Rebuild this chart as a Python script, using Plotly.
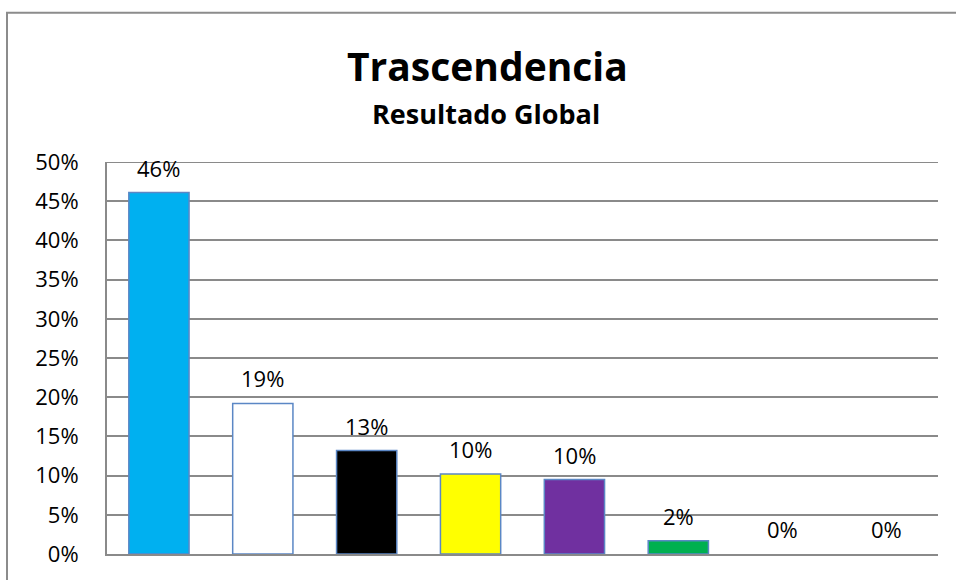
import plotly.graph_objects as go

# Share of responses per category (fractions of 1)
categories = ["A", "B", "C", "D", "E", "F", "G", "H"]
values = [0.461, 0.192, 0.132, 0.102, 0.095, 0.017, 0.0, 0.0]
bar_colors = ["#00B0F0", "#FFFFFF", "#000000", "#FFFF00", "#7030A0", "#00B050", "#FFFFFF", "#FFFFFF"]
tick_vals = [0, 0.05, 0.10, 0.15, 0.20, 0.25, 0.30, 0.35, 0.40, 0.45, 0.50]
tick_text = ["0%", "5%", "10%", "15%", "20%", "25%", "30%", "35%", "40%", "45%", "50%"]

W, H = 956, 580
L, R, T, B = 107, 18, 162, 24
pw, ph = W - L - R, H - T - B

def px_x(x):
    return (x - L) / pw

def px_y(y):
    return (H - B - y) / ph

grid = "#8A8A8A"
font = "Open Sans"

# empty categories get no outline
outline_widths = [1.5 if v > 0 else 0 for v in values]

fig = go.Figure(
    go.Bar(
        x=categories,
        y=values,
        marker=dict(color=bar_colors, line=dict(color="#5B87C5", width=outline_widths)),
        width=0.58,
        hoverinfo="skip",
    )
)

# value labels above each bar
annotations = [
    dict(
        x=c, y=v, xref="x", yref="y",
        text=f"{round(v * 100):.0f}%",
        showarrow=False, yanchor="middle", yshift=25,
        font=dict(family=font, size=22, color="#000000"),
    )
    for c, v in zip(categories, values)
]

annotations += [
    dict(
        x=px_x(487), y=px_y(65), xref="paper", yref="paper",
        text="<b>Trascendencia</b>", showarrow=False,
        xanchor="center", yanchor="middle",
        font=dict(family=font, size=39, color="#000000"),
    ),
    dict(
        x=px_x(486), y=px_y(113), xref="paper", yref="paper",
        text="<b>Resultado Global</b>", showarrow=False,
        xanchor="center", yanchor="middle",
        font=dict(family=font, size=27, color="#000000"),
    ),
]

fig.update_layout(
    width=W, height=H,
    margin=dict(l=L, r=R, t=T, b=B, pad=0),
    paper_bgcolor="#FFFFFF",
    plot_bgcolor="#FFFFFF",
    showlegend=False,
    annotations=annotations,
    shapes=[
        # outer chart frame
        dict(
            type="rect", xref="paper", yref="paper",
            x0=px_x(7), y0=px_y(640), x1=px_x(1000), y1=px_y(12),
            line=dict(color="#8C8C8C", width=2), fillcolor="rgba(0,0,0,0)",
            layer="below",
        ),
        # gridline at the top of the value range
        dict(
            type="line", xref="paper", yref="y",
            x0=0, x1=1, y0=tick_vals[-1], y1=tick_vals[-1],
            line=dict(color=grid, width=2), layer="below",
        ),
    ],
    xaxis=dict(
        showticklabels=False, showgrid=False, zeroline=False,
        showline=True, linecolor=grid, linewidth=2, ticks="",
    ),
    yaxis=dict(
        range=[0, 0.5], tickvals=tick_vals, ticktext=tick_text,
        showgrid=True, gridcolor=grid, gridwidth=2,
        zeroline=False, showline=True, linecolor=grid, linewidth=2,
        ticks="", ticklabelstandoff=22,
        tickfont=dict(family=font, size=22, color="#000000"),
    ),
)

fig.write_html("out.html")
